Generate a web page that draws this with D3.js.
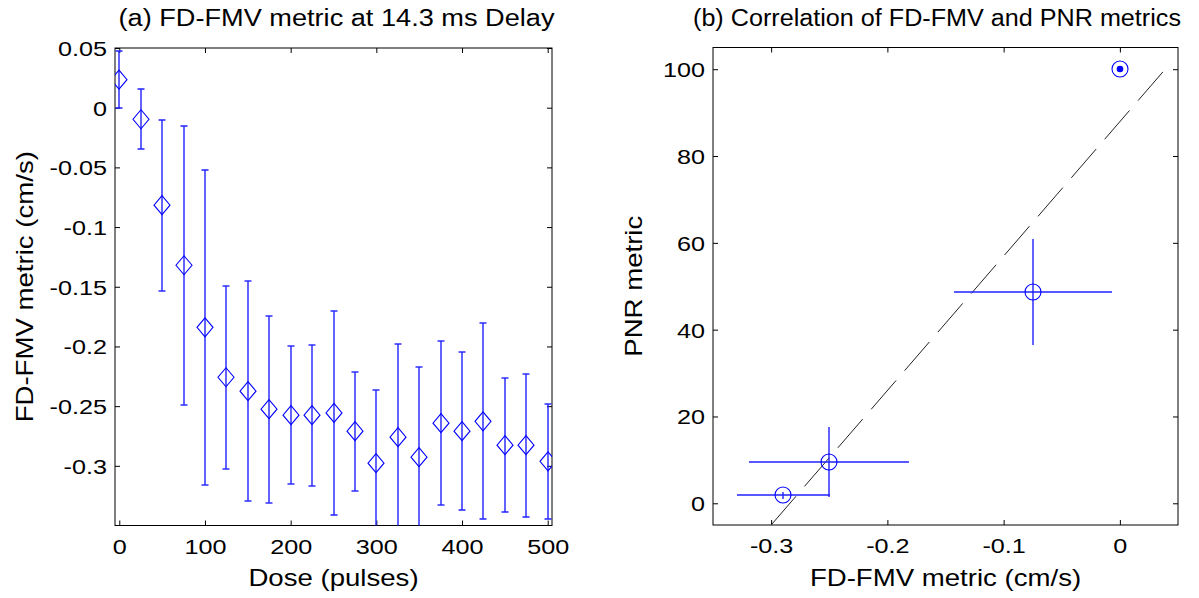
<!DOCTYPE html>
<html>
<head>
<meta charset="utf-8">
<script src="https://cdn.jsdelivr.net/npm/d3@7"></script>
<style>
  html, body { margin: 0; padding: 0; background: #fff; }
  svg { display: block; }
  text { font-family: "Liberation Sans", Arial, Helvetica, sans-serif; fill: #000; }
</style>
</head>
<body>
<svg id="fig" width="1199" height="598"></svg>
<script>
// ---- Panel (a): FD-FMV metric vs dose ----
const dose = [0, 25, 50, 75, 100, 125, 150, 175, 200, 225, 250,
              275, 300, 325, 350, 375, 400, 425, 450, 475, 500];
const fdfmvMean = [0.0235, -0.0097, -0.0817, -0.132, -0.184, -0.2258, -0.2375,
                   -0.2526, -0.2576, -0.2576, -0.2557, -0.271, -0.2978, -0.276,
                   -0.2928, -0.2643, -0.271, -0.2627, -0.2827, -0.2827, -0.2962];
const fdfmvErr = [0.024, 0.025, 0.0717, 0.117, 0.132, 0.0765, 0.092,
                  0.0785, 0.058, 0.059, 0.0855, 0.05, 0.0617, 0.0783,
                  0.0754, 0.0687, 0.0663, 0.082, 0.056, 0.060, 0.048];
const doseTicks = [0, 100, 200, 300, 400, 500];
const fdfmvTicks = [0.05, 0, -0.05, -0.1, -0.15, -0.2, -0.25, -0.3];

// ---- Panel (b): PNR metric vs FD-FMV metric ----
const corrX = [-0.2895, -0.2504, -0.0744, 0];
const corrY = [1.8, 9.5, 48.7, 100];
const corrXErr = [0.040, 0.069, 0.068, 0];
const corrYErr = [0.7, 8.1, 12.3, 0];
const fitX = [-0.3, 0.039];
const fitY = [-5, 100];
const corrXTicks = [-0.3, -0.2, -0.1, 0];
const corrYTicks = [0, 20, 40, 60, 80, 100];

const svg = d3.select("#fig");
const BLUE = "#0000ff";
const BAR = "#2020ff";
const BAR_W = 1.4;
const SX = 1.2;          // horizontal stretch of the lettering
const TICK_FS = 21;
const LABEL_FS = 23;
const px = v => Math.round(v);   // bars sit on pixel boundaries (soft 2px look)

function txt(g, x, y, s, opts = {}) {
  const rot = opts.rotate ? ` rotate(${opts.rotate})` : "";
  const t = g.append("text")
    .attr("text-anchor", opts.anchor || "middle")
    .style("font-size", (opts.size || LABEL_FS) + "px")
    .text(s);
  if (opts.width) {
    t.attr("transform", `translate(${x},${y})${rot}`)
      .attr("textLength", opts.width).attr("lengthAdjust", "spacingAndGlyphs");
  } else {
    t.attr("transform", `translate(${x},${y})${rot} scale(${SX},1)`);
  }
  return t;
}

function fmt(v) {
  if (v === 0) return "0";
  return String(+v.toFixed(3));
}

function frame(id, x, y, xTicks, yTicks, title, titleX, titleW, xLabel, yLabel, yLabelX) {
  const [x0, x1] = x.range();
  const [y0, y1] = y.range(); // y0 bottom, y1 top
  const g = svg.append("g");

  g.append("rect").attr("x", x0).attr("y", y1)
    .attr("width", x1 - x0).attr("height", y0 - y1)
    .attr("fill", "none").attr("stroke", "#000").attr("stroke-width", 1);

  const tk = 5;
  const bottom = g.append("g").attr("transform", `translate(0,${y0})`)
    .call(d3.axisBottom(x).tickValues(xTicks).tickSize(-tk).tickSizeOuter(0).tickFormat(fmt));
  const top = g.append("g").attr("transform", `translate(0,${y1})`)
    .call(d3.axisTop(x).tickValues(xTicks).tickSize(-tk).tickSizeOuter(0).tickFormat(""));
  const left = g.append("g").attr("transform", `translate(${x0},0)`)
    .call(d3.axisLeft(y).tickValues(yTicks).tickSize(-tk).tickSizeOuter(0).tickFormat(fmt));
  const right = g.append("g").attr("transform", `translate(${x1},0)`)
    .call(d3.axisRight(y).tickValues(yTicks).tickSize(-tk).tickSizeOuter(0).tickFormat(""));

  [bottom, top, left, right].forEach(a => {
    a.select(".domain").remove();
    a.selectAll(".tick line").attr("stroke", "#000");
  });
  bottom.selectAll(".tick text")
    .attr("font-family", null).style("font-size", TICK_FS + "px")
    .attr("y", 0).attr("dy", 0)
    .attr("transform", `translate(0,28) scale(${SX},1)`);
  left.selectAll(".tick text")
    .attr("font-family", null).style("font-size", TICK_FS + "px")
    .attr("x", 0).attr("dy", 0)
    .attr("transform", `translate(-8,7.5) scale(${SX},1)`);

  txt(g, titleX, 26, title, { width: titleW });
  txt(g, (x0 + x1) / 2, 586, xLabel);
  txt(g, yLabelX, (y0 + y1) / 2, yLabel, { rotate: -90 });

  svg.append("clipPath").attr("id", id)
    .append("rect").attr("x", x0).attr("y", y1)
    .attr("width", x1 - x0).attr("height", y0 - y1);
  return svg.append("g").attr("clip-path", `url(#${id})`);
}

// ---------- Panel (a) ----------
const xA = d3.scaleLinear().domain([-5, 505]).range([115, 552]);
const yA = d3.scaleLinear().domain([-0.35, 0.05]).range([525.5, 48]);
const plotA = frame("clipA", xA, yA, doseTicks, fdfmvTicks,
  "(a) FD-FMV metric at 14.3 ms Delay", 336.5, 436,
  "Dose (pulses)", "FD-FMV metric (cm/s)", 33);

const ptsA = dose.map((d, i) => ({ d, m: fdfmvMean[i], e: fdfmvErr[i] }));
const cap = 3.5;
const eb = plotA.append("g").attr("stroke", BAR).attr("stroke-width", BAR_W).attr("fill", "none");
ptsA.forEach(p => {
  const cx = px(xA(p.d)), lo = px(yA(p.m - p.e)), hi = px(yA(p.m + p.e));
  eb.append("line").attr("x1", cx).attr("x2", cx).attr("y1", lo).attr("y2", hi);
  eb.append("line").attr("x1", cx - cap).attr("x2", cx + cap).attr("y1", lo).attr("y2", lo);
  eb.append("line").attr("x1", cx - cap).attr("x2", cx + cap).attr("y1", hi).attr("y2", hi);
});
plotA.append("g").selectAll("path").data(ptsA).join("path")
  .attr("d", p => {
    const cx = px(xA(p.d)), cy = yA(p.m), w = 8, h = 9.5;
    return `M${cx},${cy - h}L${cx + w},${cy}L${cx},${cy + h}L${cx - w},${cy}Z`;
  })
  .attr("fill", "none").attr("stroke", BLUE).attr("stroke-width", 1.1);

// ---------- Panel (b) ----------
const xB = d3.scaleLinear().domain([-0.35, 0.05]).range([713, 1178]);
const yB = d3.scaleLinear().domain([-5, 105]).range([525, 47.5]);
const plotB = frame("clipB", xB, yB, corrXTicks, corrYTicks,
  "(b) Correlation of FD-FMV and PNR metrics", 937, 488,
  "FD-FMV metric (cm/s)", "PNR metric", 642);

// fitted trend line
plotB.append("path")
  .datum(fitX.map((v, i) => [v, fitY[i]]))
  .attr("d", d3.line().x(d => xB(d[0])).y(d => yB(d[1])))
  .attr("fill", "none").attr("stroke", "#222").attr("stroke-width", 1)
  .attr("stroke-dasharray", "38,13");

const ptsB = corrX.map((v, i) => ({ x: v, y: corrY[i], ex: corrXErr[i], ey: corrYErr[i] }));
const ebB = plotB.append("g").attr("stroke", BAR).attr("stroke-width", BAR_W);
ptsB.filter(p => p.ex > 0 || p.ey > 0).forEach(p => {
  ebB.append("line").attr("x1", px(xB(p.x - p.ex))).attr("x2", px(xB(p.x + p.ex)))
    .attr("y1", px(yB(p.y))).attr("y2", px(yB(p.y)));
  ebB.append("line").attr("x1", px(xB(p.x))).attr("x2", px(xB(p.x)))
    .attr("y1", px(yB(p.y - p.ey))).attr("y2", px(yB(p.y + p.ey)));
});
plotB.append("g").selectAll("circle").data(ptsB).join("circle")
  .attr("cx", p => px(xB(p.x))).attr("cy", p => px(yB(p.y))).attr("r", 8)
  .attr("fill", "none").attr("stroke", BLUE).attr("stroke-width", 1.1);
// reference point drawn with a centre dot
plotB.append("g").selectAll("circle").data(ptsB.filter(p => p.ex === 0 && p.ey === 0)).join("circle")
  .attr("cx", p => px(xB(p.x))).attr("cy", p => px(yB(p.y))).attr("r", 3.3)
  .attr("fill", BLUE);
</script>
</body>
</html>
